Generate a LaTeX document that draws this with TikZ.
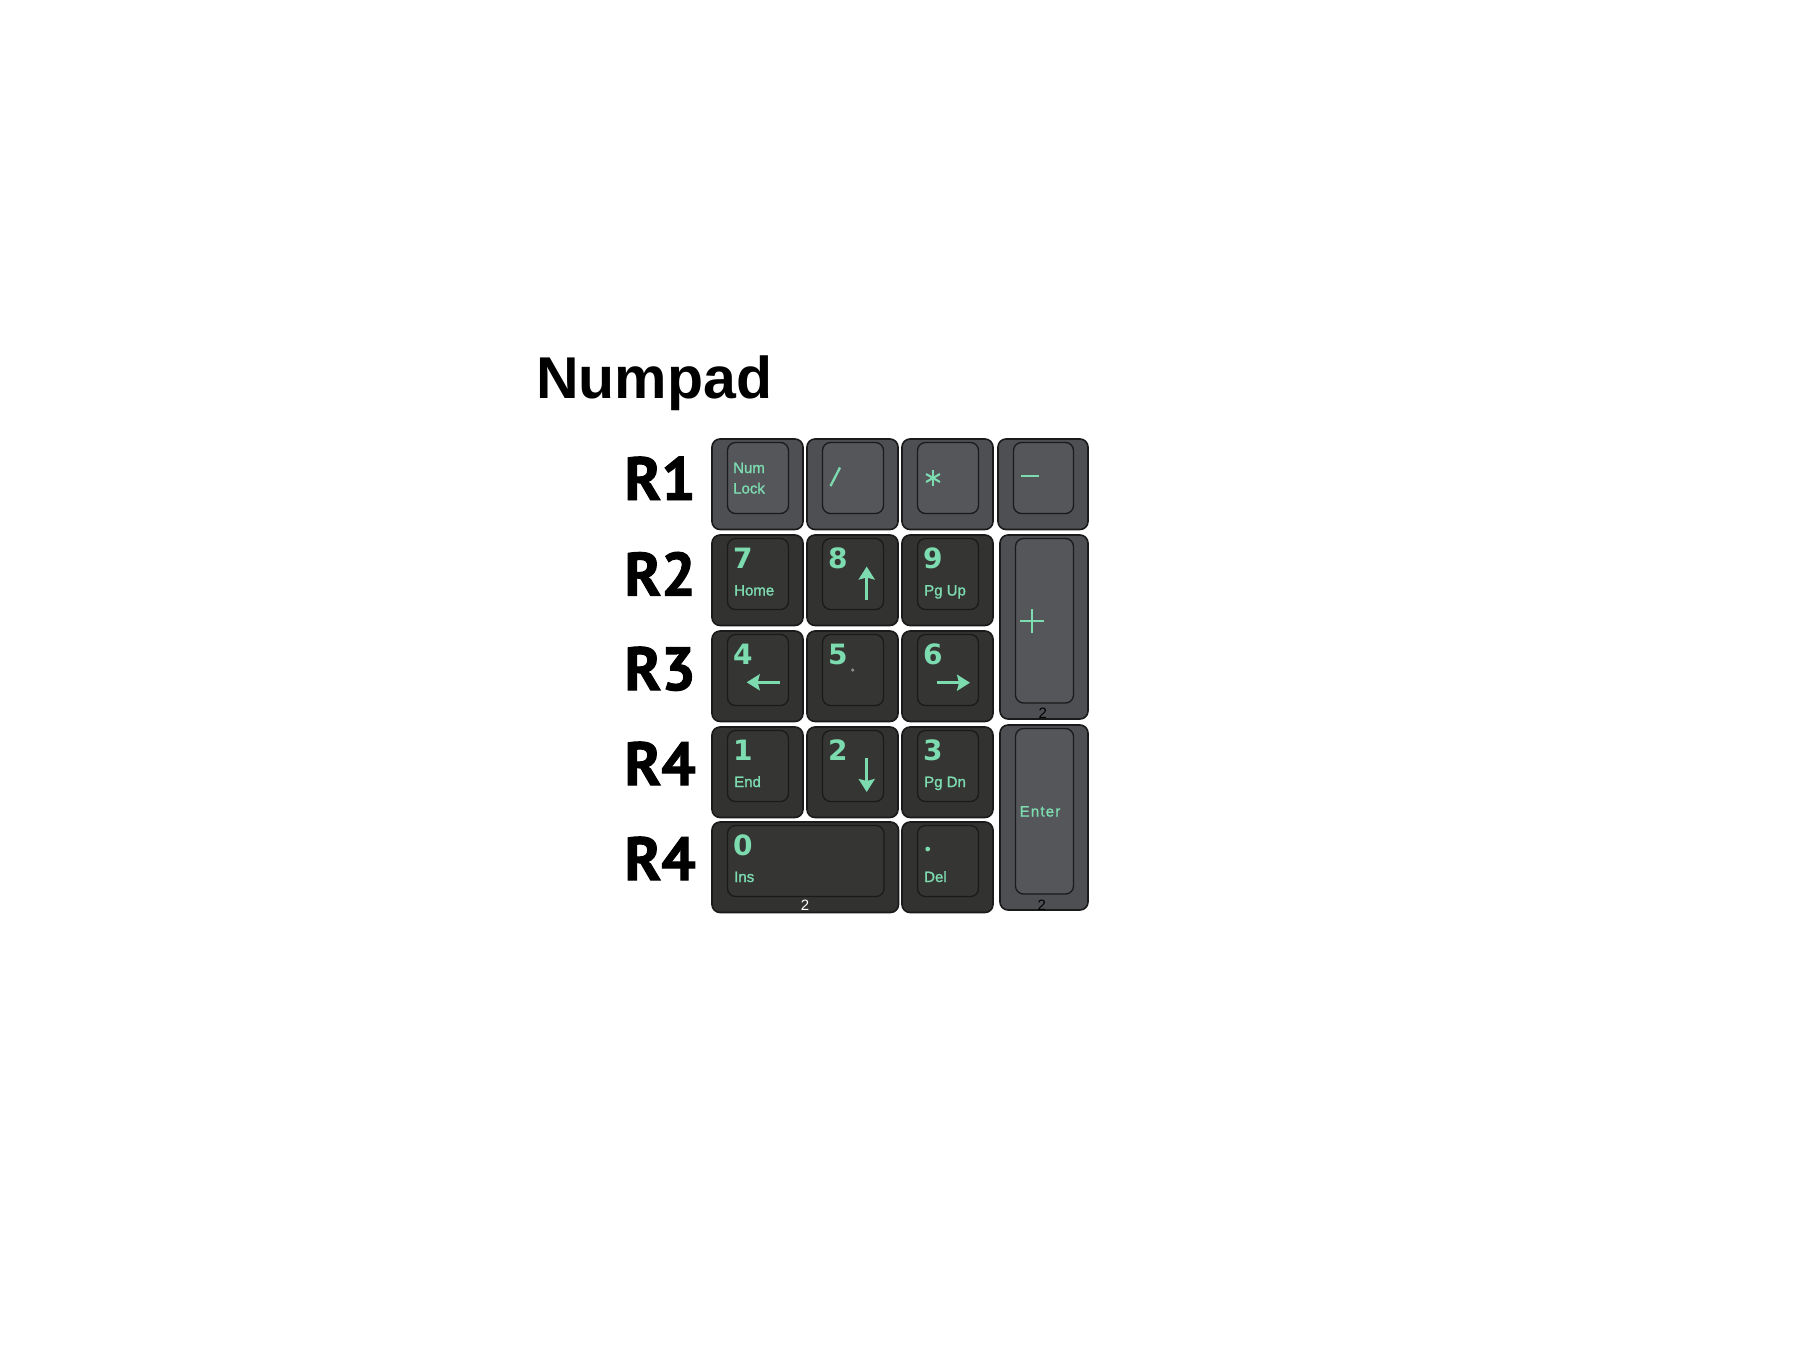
\documentclass[tikz,border=0pt]{standalone}
\usepackage{fontspec}
\setmainfont{Liberation Sans}
\newfontfamily\titlefont{Liberation Sans}
\newfontfamily\rowfont[FakeBold=1.6]{PT Sans}
\newfontfamily\keyfont{Liberation Sans}
\newfontfamily\digitfont{DejaVu Sans}
\newfontfamily\legendfont[FakeBold=1.3]{Liberation Sans}
\newfontfamily\spacedfont[LetterSpace=8,FakeBold=1.3]{Liberation Sans}
\usetikzlibrary{arrows.meta}

\definecolor{mint}{HTML}{7DDBB0}
\definecolor{greykey}{HTML}{4E4F53}
\definecolor{greycap}{HTML}{55565A}
\definecolor{darkkey}{HTML}{323331}
\definecolor{darkcap}{HTML}{353634}
\definecolor{edge}{HTML}{1A1A1A}
\definecolor{dotgrey}{HTML}{8A8A8A}

\tikzset{
  keybody/.style={draw=edge, line width=1.6pt, rounded corners=8pt, anchor=north west, inner sep=0pt, outer sep=0pt},
  capbody/.style={draw=edge, line width=1.3pt, rounded corners=8pt, anchor=north west, inner sep=0pt, outer sep=0pt},
  greyk/.style={fill=greykey}, greyc/.style={fill=greycap},
  darkk/.style={fill=darkkey}, darkc/.style={fill=darkcap},
  digit/.style={anchor=base west, inner sep=0pt, text=mint, font=\digitfont\bfseries\fontsize{28}{28}\selectfont},
  legend/.style={anchor=base west, inner sep=0pt, text=mint, font=\legendfont\fontsize{15}{15}\selectfont},
  spaced/.style={anchor=base, inner sep=0pt, text=mint, font=\spacedfont\fontsize{15}{15}\selectfont},
  rowlabel/.style={anchor=base east, inner sep=0pt, font=\rowfont\bfseries\fontsize{61}{61}\selectfont},
  titletext/.style={anchor=base west, inner sep=0pt, font=\titlefont\bfseries\fontsize{59}{59}\selectfont},
  sizelabel/.style={anchor=base, inner sep=0pt, font=\keyfont\fontsize{15}{15}\selectfont},
  glyph/.style={draw=mint, line width=2.3pt},
  arrowglyph/.style={draw=mint, line width=3.2pt, -{Stealth[length=13pt,width=16pt,inset=2pt]}},
}

% name, x, y, w, h, body style, cap style
\newcommand\numkey[7]{%
  \node[keybody,#6,minimum width=#4pt,minimum height=#5pt] (#1) at (#2,#3) {};
  \node[capbody,#7,minimum width={#4pt-30pt},minimum height={#5pt-19.5pt}] (#1cap) at ([shift={(15.5,3.5)}]#1.north west) {};
}

\begin{document}
\begin{tikzpicture}[x=1pt,y=-1pt]
  \fill[white] (0,0) rectangle (1800,1350);
  \useasboundingbox (0,0) rectangle (1800,1350);

  \node[titletext] (title) at (536,398) {Numpad};

  \node[rowlabel] (r1) at (696,500) {R1};
  \node[rowlabel] (r2) at (696,595.5) {R2};
  \node[rowlabel] (r3) at (696,690) {R3};
  \node[rowlabel] (r4a) at (696,785) {R4};
  \node[rowlabel] (r4b) at (696,880) {R4};

  % row 1
  \numkey{knl}{712}{439}{91}{90.5}{greyk}{greyc}
  \numkey{kdiv}{807}{439}{91}{90.5}{greyk}{greyc}
  \numkey{kmul}{902}{439}{91}{90.5}{greyk}{greyc}
  \numkey{ksub}{998}{439}{90}{90.5}{greyk}{greyc}
  % row 2
  \numkey{kseven}{712}{535}{91}{90.5}{darkk}{darkc}
  \numkey{keight}{807}{535}{91}{90.5}{darkk}{darkc}
  \numkey{knine}{902}{535}{91}{90.5}{darkk}{darkc}
  \numkey{kplus}{1000}{535}{88}{184}{greyk}{greyc}
  % row 3
  \numkey{kfour}{712}{631}{91}{90.5}{darkk}{darkc}
  \numkey{kfive}{807}{631}{91}{90.5}{darkk}{darkc}
  \numkey{ksix}{902}{631}{91}{90.5}{darkk}{darkc}
  % row 4
  \numkey{kone}{712}{727}{91}{90.5}{darkk}{darkc}
  \numkey{ktwo}{807}{727}{91}{90.5}{darkk}{darkc}
  \numkey{kthree}{902}{727}{91}{90.5}{darkk}{darkc}
  \numkey{kenter}{1000}{725}{88}{185}{greyk}{greyc}
  % row 5
  \numkey{kzero}{712}{822}{186.5}{90.5}{darkk}{darkc}
  \numkey{kdot}{902}{822}{91}{90.5}{darkk}{darkc}

  % row 1 legends
  \node[legend] (tnum) at (733,473) {Num};
  \node[legend] (tlock) at (733,493.5) {Lock};
  \draw[glyph] (830.5,486) -- (840,467.5);
  \foreach \a in {90,30,150} {
    \draw[glyph,line width=2.1pt] (933,478) +(\a:8) -- +(\a+180:8);
  }
  \draw[glyph] (1021,476) -- (1039,476);

  % row 2
  \node[digit] (t7) at (733,568.5) {7};
  \node[legend] (thome) at (734,595.5) {Home};
  \node[digit] (t8) at (828,568.5) {8};
  \draw[arrowglyph] (866.7,600) -- (866.7,566.5);
  \node[digit] (t9) at (923,568.5) {9};
  \node[legend] (tpgup) at (924,595.5) {Pg Up};
  \draw[glyph,line width=2.2pt] (1020,620.7) -- (1043.5,620.7);
  \draw[glyph,line width=2.2pt] (1031.7,609) -- (1031.7,632.5);
  \node[sizelabel] (tplus2) at (1042.7,718.5) {2};

  % row 3
  \node[digit] (t4) at (733,664.5) {4};
  \draw[arrowglyph] (780,682.3) -- (746.7,682.3);
  \node[digit] (t5) at (828,664.5) {5};
  \fill[dotgrey] (852.7,670) circle (1.8);
  \node[digit] (t6) at (923,664.5) {6};
  \draw[arrowglyph] (936.7,682.7) -- (970,682.7);

  % row 4
  \node[digit] (t1) at (733,760.5) {1};
  \node[legend] (tend) at (734,787) {End};
  \node[digit] (t2) at (828,760.5) {2};
  \draw[arrowglyph] (866.7,758) -- (866.7,792);
  \node[digit] (t3) at (923,760.5) {3};
  \node[legend] (tpgdn) at (924,787) {Pg Dn};
  \node[spaced] (tenter) at (1040,816.5) {Enter};
  \node[sizelabel] (tenter2) at (1041.7,910.5) {2};

  % row 5
  \node[digit] (t0) at (733,855.5) {0};
  \node[legend] (tins) at (734,882) {Ins};
  \node[sizelabel,text=white] (tzero2) at (805,910.5) {2};
  \fill[mint] (927.7,849) circle (2.4);
  \node[legend] (tdel) at (924,882) {Del};
\end{tikzpicture}
\end{document}
